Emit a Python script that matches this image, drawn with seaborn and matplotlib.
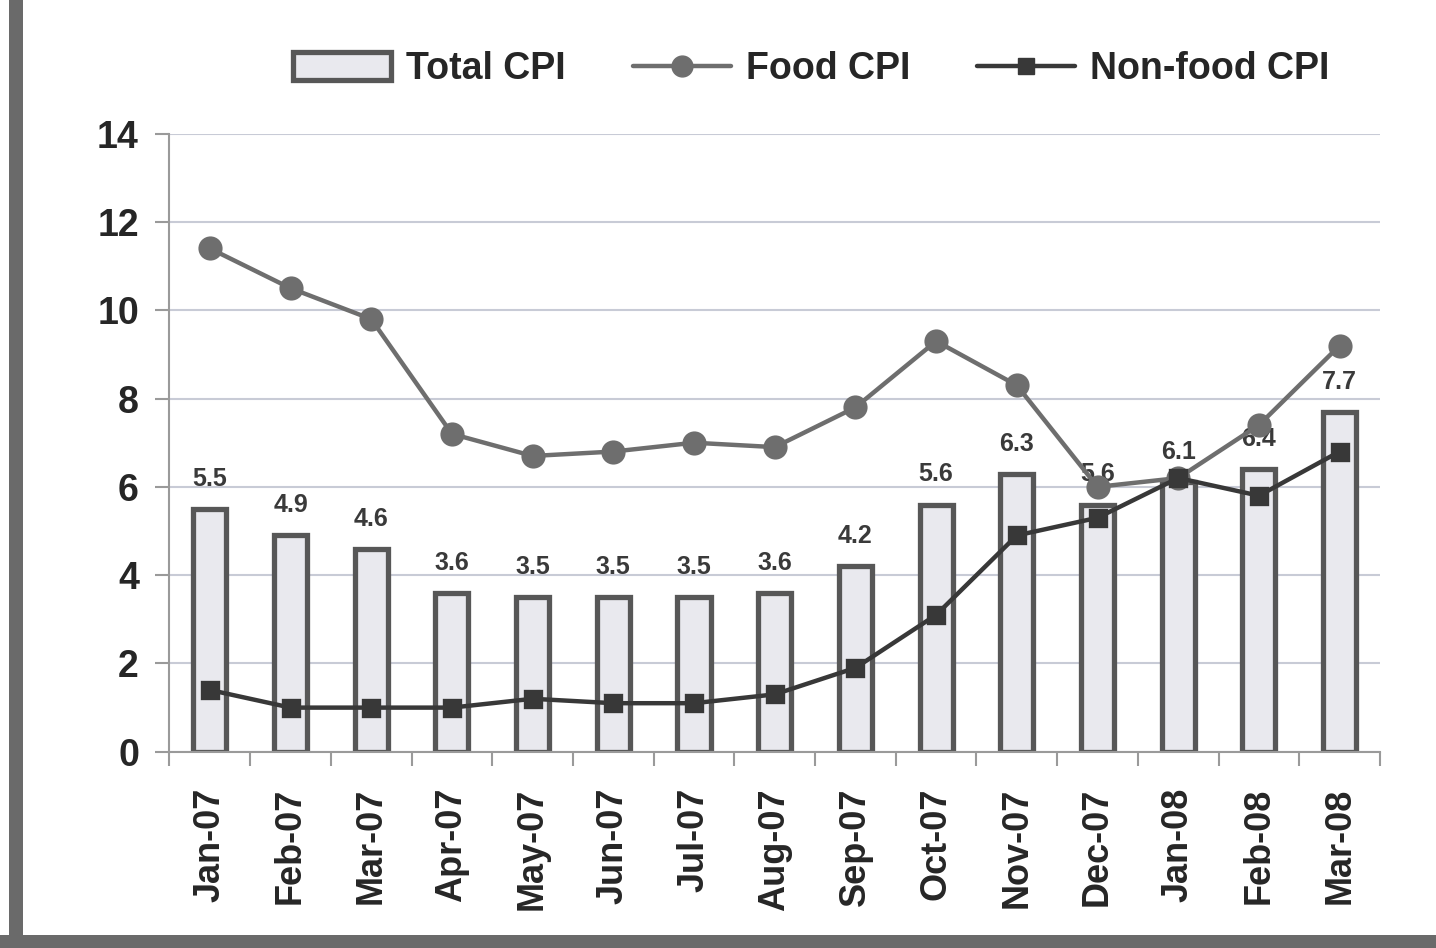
import matplotlib
matplotlib.use("Agg")
import matplotlib.pyplot as plt
import seaborn as sns
import pandas as pd
from matplotlib.patches import Rectangle
from matplotlib.lines import Line2D

months = ["Jan-07", "Feb-07", "Mar-07", "Apr-07", "May-07", "Jun-07", "Jul-07", "Aug-07",
          "Sep-07", "Oct-07", "Nov-07", "Dec-07", "Jan-08", "Feb-08", "Mar-08"]
total_cpi = [5.5, 4.9, 4.6, 3.6, 3.5, 3.5, 3.5, 3.6, 4.2, 5.6, 6.3, 5.6, 6.1, 6.4, 7.7]
food_cpi = [11.4, 10.5, 9.8, 7.2, 6.7, 6.8, 7.0, 6.9, 7.8, 9.3, 8.3, 6.0, 6.2, 7.4, 9.2]
nonfood_cpi = [1.4, 1.0, 1.0, 1.0, 1.2, 1.1, 1.1, 1.3, 1.9, 3.1, 4.9, 5.3, 6.2, 5.8, 6.8]
y_ticks = [0, 2, 4, 6, 8, 10, 12, 14]

sns.set_theme(style="white")
plt.rcParams['font.family'] = ['Liberation Sans', 'DejaVu Sans']

df = pd.DataFrame({"month": months, "total": total_cpi, "food": food_cpi, "nonfood": nonfood_cpi})

fig = plt.figure(figsize=(14.36, 9.48), dpi=100)
ax = fig.add_axes([0.118, 0.207, 0.843, 0.652])

bar_face = "#e9e9ee"
bar_edge = "#575757"
food_col = "#6e6e6e"
nonfood_col = "#383838"
text_col = "#262626"

sns.barplot(data=df, x="month", y="total", ax=ax, color=bar_face, edgecolor=bar_edge,
            linewidth=3.8, width=0.41, saturation=1, zorder=2)
sns.pointplot(data=df, x="month", y="food", ax=ax, color=food_col, markers="o",
              markersize=15, linewidth=3.2, zorder=4)
sns.pointplot(data=df, x="month", y="nonfood", ax=ax, color=nonfood_col, markers="s",
              markersize=12, linewidth=3.2, zorder=5)

for i, v in enumerate(total_cpi):
    ax.annotate(f"{v:.1f}", (i, v), xytext=(0, 13), textcoords="offset points",
                ha="center", va="bottom", fontsize=18, fontweight="bold", color="#3a3a3a")

ax.set_ylim(0, 14)
ax.set_xlim(-0.5, 14.5)
ax.set_yticks(y_ticks)
ax.set_yticklabels([str(t) for t in y_ticks], fontsize=27, fontweight="bold", color=text_col)
ax.set_xticks(range(len(months)))
ax.set_xticklabels(months, rotation=90, fontsize=26, fontweight="bold", color=text_col)
ax.set_xlabel("")
ax.set_ylabel("")

ax.yaxis.grid(True, color="#c8cbd6", linewidth=1.5, zorder=0)
ax.set_axisbelow(True)
for s in ["top", "right"]:
    ax.spines[s].set_visible(False)
for s in ["left", "bottom"]:
    ax.spines[s].set_color("#9a9a9a")
    ax.spines[s].set_linewidth(1.5)

ax.tick_params(axis="y", length=10, width=1.5, color="#9a9a9a", pad=12, left=True)
ax.tick_params(axis="x", length=0, pad=26)
ax.set_xticks([i - 0.5 for i in range(len(months) + 1)], minor=True)
ax.tick_params(axis="x", which="minor", length=10, width=1.5, color="#9a9a9a", bottom=True)

handles = [
    Rectangle((0, 0), 1, 1, facecolor=bar_face, edgecolor=bar_edge, linewidth=3.8),
    Line2D([], [], color=food_col, marker="o", markersize=15, linewidth=3.2),
    Line2D([], [], color=nonfood_col, marker="s", markersize=11, linewidth=3.2),
]
fig.legend(handles, ["Total CPI", "Food CPI", "Non-food CPI"], loc="center",
           bbox_to_anchor=(0.565, 0.927), ncol=3, frameon=False,
           prop={"size": 27, "weight": "bold"}, handlelength=2.6, handleheight=0.75,
           columnspacing=1.8, handletextpad=0.4, labelcolor=text_col)

# gray frame edges
fig.patches.append(Rectangle((0.006, 0.0), 0.010, 1.0, transform=fig.transFigure,
                             facecolor="#6a6a6a", edgecolor="none"))
fig.patches.append(Rectangle((0.0, 0.0), 1.0, 0.014, transform=fig.transFigure,
                             facecolor="#6a6a6a", edgecolor="none"))

fig.savefig("out.png", dpi=100)
